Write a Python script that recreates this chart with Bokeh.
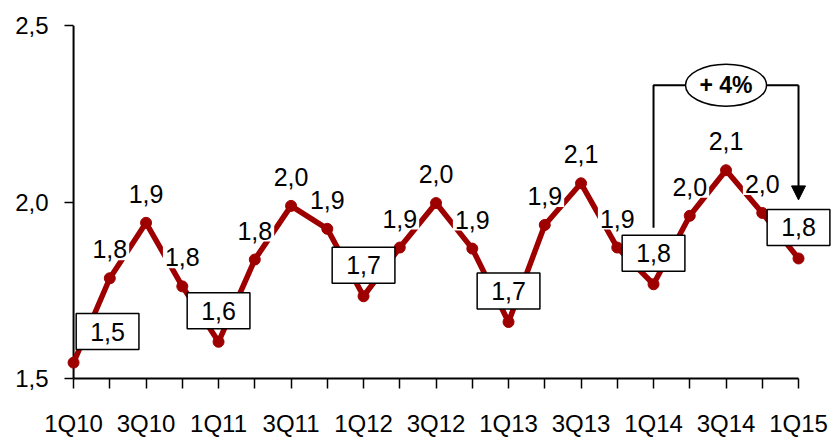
from bokeh.plotting import figure
from bokeh.models import Range1d, FixedTicker, ColumnDataSource, Arrow, NormalHead
from bokeh.core.properties import value
from bokeh.embed import file_html
from bokeh.resources import INLINE

quarters = ["1Q10", "2Q10", "3Q10", "4Q10", "1Q11", "2Q11", "3Q11", "4Q11",
            "1Q12", "2Q12", "3Q12", "4Q12", "1Q13", "2Q13", "3Q13", "4Q13",
            "1Q14", "2Q14", "3Q14", "4Q14", "1Q15"]
values = [1.545, 1.784, 1.941, 1.761, 1.604, 1.837, 1.989, 1.924,
          1.733, 1.871, 1.997, 1.868, 1.660, 1.935, 2.053, 1.871,
          1.767, 1.961, 2.090, 1.969, 1.840]
labels = ["1,5", "1,8", "1,9", "1,8", "1,6", "1,8", "2,0", "1,9",
          "1,7", "1,9", "2,0", "1,9", "1,7", "1,9", "2,1", "1,9",
          "1,8", "2,0", "2,1", "2,0", "1,8"]
y_ticks = [1.5, 2.0, 2.5]
y_tick_labels = ["1,5", "2,0", "2,5"]
growth_text = "+ 4%"
growth_from = "1Q14"
growth_to = "1Q15"

FONT = "Liberation Sans"
RED = "#9E0000"

xs = list(range(len(quarters)))

p = figure(width=831, height=439, output_backend="svg", toolbar_location=None,
           x_range=Range1d(-0.25, 20.91), y_range=Range1d(1.5, 2.5),
           min_border_left=64, min_border_right=0, min_border_top=25,
           min_border_bottom=60)
p.background_fill_color = "white"
p.outline_line_color = None
p.grid.visible = False

# axes
p.xaxis.ticker = FixedTicker(ticks=xs)
p.xaxis.major_label_overrides = {i: (q if i % 2 == 0 else "") for i, q in enumerate(quarters)}
p.xaxis.bounds = (0, len(quarters) - 1)
p.xaxis.axis_line_width = 2
p.xaxis.major_tick_in = 0
p.xaxis.major_tick_out = 10
p.xaxis.major_label_standoff = 21

p.yaxis.ticker = FixedTicker(ticks=y_ticks)
p.yaxis.major_label_overrides = {t: l for t, l in zip(y_ticks, y_tick_labels)}
p.yaxis.axis_line_color = None
p.yaxis.major_tick_in = 9
p.yaxis.major_tick_out = 0
p.yaxis.major_label_standoff = 16

for ax in (p.xaxis, p.yaxis):
    ax.major_tick_line_width = 1.5
    ax.major_tick_line_color = "black"
    ax.minor_tick_line_color = None
    ax.major_label_text_font = FONT
    ax.major_label_text_font_size = "24px"
    ax.major_label_text_color = "black"

# y axis line at the first quarter
p.segment(x0=[0], y0=[y_ticks[0]], x1=[0], y1=[y_ticks[-1]], line_color="black", line_width=2)

src = ColumnDataSource(dict(x=xs, y=values, label=labels))
p.line("x", "y", source=src, line_color=RED, line_width=5.5)
p.scatter("x", "y", source=src, size=11, fill_color=RED, line_color=RED)

# labels
plain_idx = [i for i, q in enumerate(quarters) if not q.startswith("1Q")]
box_idx = [i for i, q in enumerate(quarters) if q.startswith("1Q")]

plain = ColumnDataSource(dict(x=[xs[i] for i in plain_idx],
                              y=[values[i] for i in plain_idx],
                              t=[labels[i] for i in plain_idx]))
p.text("x", "y", text="t", source=plain, x_offset=0, y_offset=-29,
       text_align="center", text_baseline="middle",
       text_font=value(FONT), text_font_size="25px", text_color="black",
       background_fill_color="white", padding=2)

boxed = ColumnDataSource(dict(x=[xs[i] for i in box_idx],
                              y=[values[i] for i in box_idx],
                              t=[labels[i] for i in box_idx],
                              dx=[34 if i == 0 else 0 for i in box_idx]))
p.text("x", "y", text="t", source=boxed, x_offset="dx", y_offset=-31,
       text_align="center", text_baseline="middle",
       text_font=value(FONT), text_font_size="25px", text_color="black",
       background_fill_color="white", border_line_color="black", border_line_width=1.5,
       padding=dict(left=14, right=14, top=9, bottom=9))

# growth bracket
i0 = quarters.index(growth_from)
i1 = quarters.index(growth_to)
top_y = 2.331
p.line([i0, i0, i1], [1.927, top_y, top_y], line_color="black", line_width=2)
p.add_layout(Arrow(end=NormalHead(size=14, fill_color="black", line_color="black", line_width=1),
                   x_start=i1, y_start=top_y, x_end=i1, y_end=2.006,
                   line_color="black", line_width=2))
p.ellipse(x=[(i0 + i1) / 2], y=[top_y], width=81, height=42,
          width_units="screen", height_units="screen",
          fill_color="white", line_color="black", line_width=1.5)
p.text(x=[(i0 + i1) / 2], y=[top_y], text=[growth_text], text_align="center",
       text_baseline="middle", text_font=value(FONT), text_font_size="23px",
       text_font_style="bold", text_color="black")

open("out.html", "w").write(file_html(p, INLINE))
